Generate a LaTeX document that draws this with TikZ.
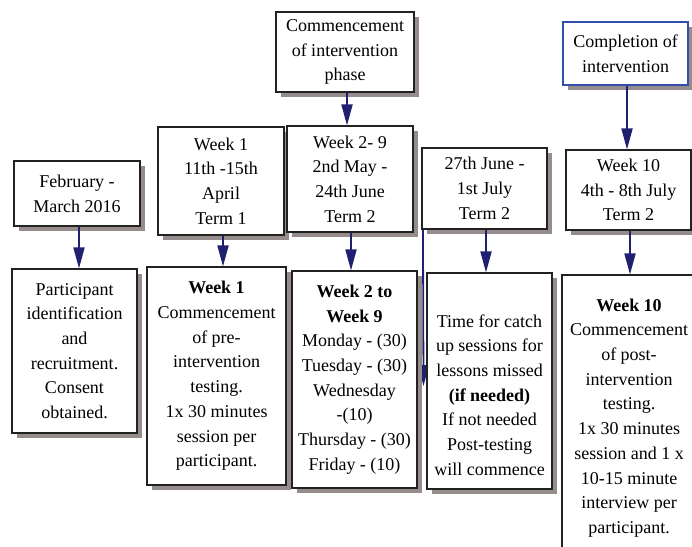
\documentclass[tikz,border=0pt]{standalone}
\usepackage{fontspec}
\setmainfont{Liberation Serif}
\usetikzlibrary{arrows.meta,shadows,calc}
\definecolor{navy}{RGB}{32,32,112}
\definecolor{shadowc}{RGB}{150,140,140}
\definecolor{bluebd}{RGB}{50,80,170}
\definecolor{boxbd}{RGB}{34,34,34}
\begin{document}
\begin{tikzpicture}[x=1pt,y=-1pt,
  box/.style={draw=boxbd, line width=1.1pt, fill=white, inner sep=0pt,
    align=center, font=\fontsize{18}{24.7}\selectfont,
    drop shadow={shadow xshift=5pt, shadow yshift=-5pt, fill=shadowc, opacity=1}},
  txt/.style={align=center, font=\fontsize{18}{24.7}\selectfont, inner sep=0pt},
  arr/.style={draw=navy, line width=1.8pt, -{Triangle[length=21pt,width=11pt,fill=navy]}}
]
\useasboundingbox (0,0) rectangle (692,546);
\clip (0,0) rectangle (692,546);

\node[box, minimum width=126pt, minimum height=65pt] (A) at (77,193.5) {February -\\March 2016};
\node[box, minimum width=125pt, minimum height=164pt] (B) at (74.5,351) {Participant\\identification\\and\\recruitment.\\Consent\\obtained.};
\node[box, minimum width=126pt, minimum height=108pt] (C) at (221,181) {Week 1\\11th -15th\\April\\Term 1};
\node[box, minimum width=139pt, minimum height=218pt] (D) at (216.5,376) {\textbf{Week 1}\\Commencement\\of pre-\\intervention\\testing.\\1x 30 minutes\\session per\\participant.};
\node[box, minimum width=138pt, minimum height=80pt] (E) at (345,52) {Commencement\\of intervention\\phase};
\node[box, minimum width=126pt, minimum height=106pt] (F) at (350,179) {Week 2- 9\\2nd May -\\24th June\\Term 2};
\node[box, minimum width=125pt, minimum height=81pt] (H) at (484.5,188.5) {27th June -\\1st July\\Term 2};

\coordinate (oddend) at (423.5,386);
\draw[arr] ([xshift=1.5pt]H.south west) -- (oddend);

\node[box, minimum width=125pt, minimum height=217pt] (G) at (354.5,379.5) {\textbf{Week 2 to}\\\textbf{Week 9}\\Monday - (30)\\Tuesday - (30)\\Wednesday\\-(10)\\Thursday - (30)\\Friday - (10)};
\node[box, minimum width=125pt, minimum height=216pt] (I) at (489.5,381) {};
\node[txt] (It) at (489.5,395) {Time for catch\\up sessions for\\lessons missed\\\textbf{(if needed)}\\If not needed\\Post-testing\\will commence};
\node[box, draw=bluebd, minimum width=125pt, minimum height=63pt] (J) at (625.5,53.5) {Completion of\\intervention};
\node[box, minimum width=125pt, minimum height=80pt] (K) at (628.5,190) {Week 10\\4th - 8th July\\Term 2};
\node[box, minimum width=134pt, minimum height=295pt] (L) at (629,422.5) {};
\node[txt] (Lt) at (629,418) {\textbf{Week 10}\\Commencement\\of post-\\intervention\\testing.\\1x 30 minutes\\session and 1 x\\10-15 minute\\interview per\\participant.};

\draw[arr] ([xshift=2pt]A.south) -- ([xshift=2pt]A.south |- B.north);
\draw[arr] ([xshift=2pt]C.south) -- ([xshift=2pt]C.south |- D.north);
\draw[arr] ([xshift=2pt]E.south) -- ([xshift=2pt]E.south |- F.north);
\draw[arr] ([xshift=1pt]F.south) -- ([xshift=1pt]F.south |- G.north);
\draw[arr] ([xshift=1.5pt]H.south) -- ([xshift=1.5pt]H.south |- I.north);
\draw[arr] ([xshift=1.5pt]J.south) -- ([xshift=1.5pt]J.south |- K.north);
\draw[arr] ([xshift=1.5pt]K.south) -- ([xshift=1.5pt]K.south |- L.north);
\end{tikzpicture}
\end{document}
